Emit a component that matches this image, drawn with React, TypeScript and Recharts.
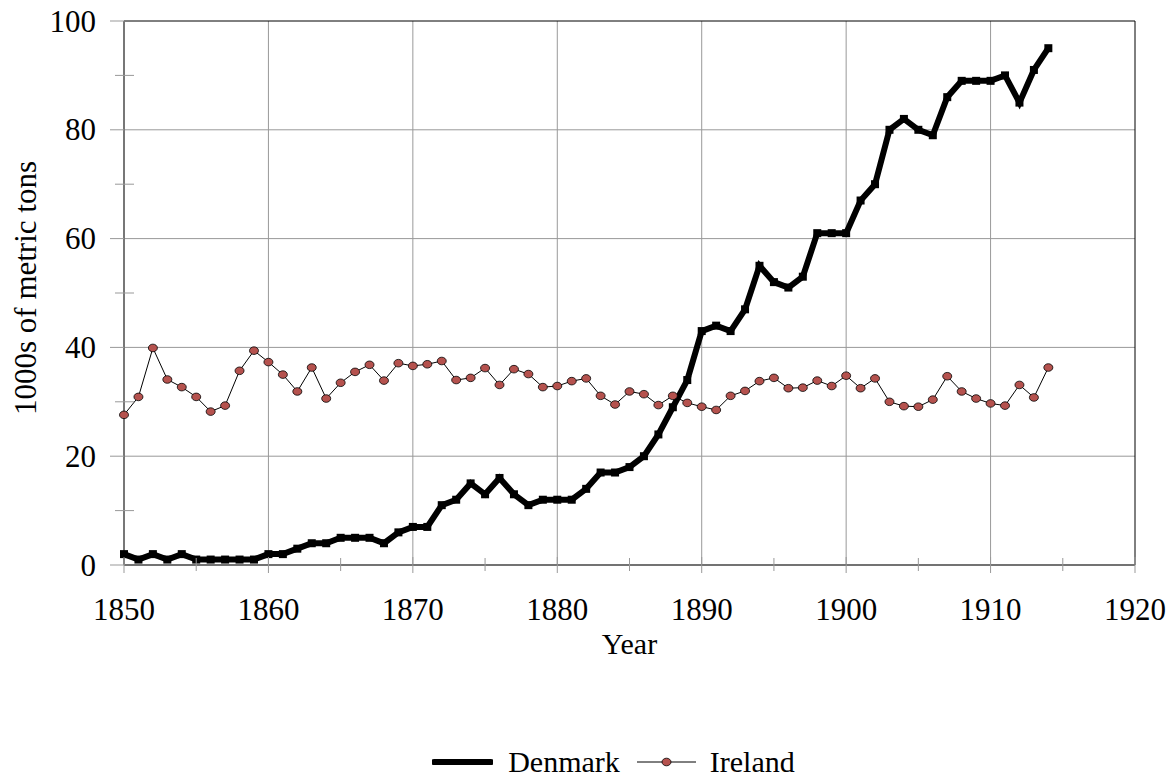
import React from "react"
import { LineChart, Line, XAxis, YAxis, ReferenceLine, Legend } from "recharts"

// Year-by-year exports, 1000s of metric tons
const years = [
  1850, 1851, 1852, 1853, 1854, 1855, 1856, 1857, 1858, 1859,
  1860, 1861, 1862, 1863, 1864, 1865, 1866, 1867, 1868, 1869,
  1870, 1871, 1872, 1873, 1874, 1875, 1876, 1877, 1878, 1879,
  1880, 1881, 1882, 1883, 1884, 1885, 1886, 1887, 1888, 1889,
  1890, 1891, 1892, 1893, 1894, 1895, 1896, 1897, 1898, 1899,
  1900, 1901, 1902, 1903, 1904, 1905, 1906, 1907, 1908, 1909,
  1910, 1911, 1912, 1913, 1914,
]

const denmark = [
  2, 1, 2, 1, 2, 1, 1, 1, 1, 1,
  2, 2, 3, 4, 4, 5, 5, 5, 4, 6,
  7, 7, 11, 12, 15, 13, 16, 13, 11, 12,
  12, 12, 14, 17, 17, 18, 20, 24, 29, 34,
  43, 44, 43, 47, 55, 52, 51, 53, 61, 61,
  61, 67, 70, 80, 82, 80, 79, 86, 89, 89,
  89, 90, 85, 91, 95,
]

const ireland = [
  27.6, 30.9, 39.9, 34.1, 32.7, 30.9, 28.2, 29.3, 35.7, 39.4,
  37.3, 35.0, 31.9, 36.3, 30.6, 33.5, 35.5, 36.8, 33.9, 37.1,
  36.6, 36.9, 37.5, 34.0, 34.4, 36.2, 33.1, 36.0, 35.1, 32.7,
  32.9, 33.8, 34.3, 31.1, 29.5, 31.9, 31.4, 29.4, 31.1, 29.8,
  29.1, 28.5, 31.1, 32.0, 33.8, 34.4, 32.5, 32.6, 33.9, 32.9,
  34.8, 32.5, 34.3, 30.0, 29.2, 29.1, 30.4, 34.7, 31.9, 30.6,
  29.7, 29.3, 33.1, 30.8, 36.3,
]

const xTicks = [1850, 1855, 1860, 1865, 1870, 1875, 1880, 1885, 1890, 1895, 1900, 1905, 1910, 1915, 1920]
const xGrid = [1860, 1870, 1880, 1890, 1900, 1910]
const yTicks = [0, 10, 20, 30, 40, 50, 60, 70, 80, 90, 100]
const yGrid = [20, 40, 60, 80]

const data = years.map((year, i) => ({ year, denmark: denmark[i], ireland: ireland[i] }))

const FONT = "Liberation Serif, DejaVu Serif, serif"
const FS = 30
const TICK_FS = 31

const XTick = (props: any) => {
  const { x, y, payload } = props
  const major = payload.value % 10 === 0
  return (
    <g>
      <line x1={x} x2={x} y1={major ? y - 8 : y - 7} y2={major ? y + 8 : y + 6} stroke="#999" />
      {major && (
        <text x={x} y={y + 44} textAnchor="middle" dominantBaseline="central" style={{ fontFamily: FONT, fontSize: TICK_FS }} fill="#000">
          {payload.value}
        </text>
      )}
    </g>
  )
}

const YTick = (props: any) => {
  const { x, y, payload } = props
  const major = payload.value % 20 === 0
  return (
    <g>
      <line x1={major ? x - 14 : x - 9} x2={major ? x : x + 10} y1={y} y2={y} stroke="#999" />
      {major && (
        <text x={x - 28} y={y} textAnchor="end" dominantBaseline="central" style={{ fontFamily: FONT, fontSize: TICK_FS }} fill="#000">
          {payload.value}
        </text>
      )}
    </g>
  )
}

const SquareDot = (props: any) => {
  const { cx, cy } = props
  if (cx == null || cy == null) return null
  return <rect x={cx - 4} y={cy - 4} width={8} height={8} fill="#000" />
}

const RoundDot = (props: any) => {
  const { cx, cy } = props
  if (cx == null || cy == null) return null
  return <ellipse cx={cx} cy={cy} rx={4.5} ry={3.8} fill="#b5524e" stroke="#000" strokeWidth={0.8} />
}

const LegendContent = () => (
  <div style={{ display: "flex", justifyContent: "center", alignItems: "center", height: 36, paddingLeft: 92, fontFamily: FONT, fontSize: FS, color: "#000" }}>
    <svg width={61} height={12}>
      <line x1={2} x2={59} y1={6} y2={6} stroke="#000" strokeWidth={6} strokeLinecap="round" />
    </svg>
    <span style={{ marginLeft: 15, marginRight: 17, lineHeight: "36px" }}>Denmark</span>
    <svg width={59} height={12}>
      <line x1={0} x2={59} y1={6} y2={6} stroke="#000" strokeWidth={1} />
      <ellipse cx={29.5} cy={6} rx={4.5} ry={3.8} fill="#b5524e" stroke="#000" strokeWidth={0.8} />
    </svg>
    <span style={{ marginLeft: 14, lineHeight: "36px" }}>Ireland</span>
  </div>
)

export default function App() {
  return (
    <div>
      <style>{"body{margin:0;background:#fff}"}</style>
      <LineChart width={1174} height={780} data={data} margin={{ top: 21, right: 39, left: 0, bottom: 0 }}>
        <XAxis
          dataKey="year"
          type="number"
          domain={[1850, 1920]}
          ticks={xTicks}
          interval={0}
          height={179}
          tickSize={0}
          tickMargin={0}
          tickLine={false}
          axisLine={{ stroke: "#444", strokeWidth: 1.5 }}
          tick={<XTick />}
          label={{
            content: (p: any) => {
              const vb = p.viewBox
              return (
                <text x={vb.x + vb.width / 2} y={vb.y + 89} textAnchor="middle" style={{ fontFamily: FONT, fontSize: FS }} fill="#000">
                  Year
                </text>
              )
            },
          }}
        />
        <YAxis
          type="number"
          domain={[0, 100]}
          ticks={yTicks}
          interval={0}
          width={124}
          tickSize={0}
          tickMargin={0}
          tickLine={false}
          axisLine={{ stroke: "#777", strokeWidth: 2 }}
          tick={<YTick />}
          label={{
            content: (p: any) => {
              const vb = p.viewBox
              const cx = 25
              const cy = vb.y + vb.height / 2 - 5
              return (
                <text x={cx} y={cy} transform={`rotate(-90, ${cx}, ${cy})`} textAnchor="middle" dominantBaseline="central" style={{ fontFamily: FONT, fontSize: 31 }} fill="#000">
                  1000s of metric tons
                </text>
              )
            },
          }}
        />
        {xGrid.map((v) => (
          <ReferenceLine key={"gx" + v} x={v} stroke="#999" />
        ))}
        {yGrid.map((v) => (
          <ReferenceLine key={"gy" + v} y={v} stroke="#999" />
        ))}
        <ReferenceLine y={100} stroke="#000" />
        <ReferenceLine x={1920} stroke="#000" />
        <Legend verticalAlign="bottom" content={<LegendContent />} />
        <Line
          dataKey="ireland"
          stroke="#000"
          strokeWidth={1}
          dot={<RoundDot />}
          activeDot={false}
          isAnimationActive={false}
        />
        <Line
          dataKey="denmark"
          stroke="#000"
          strokeWidth={6}
          strokeLinejoin="miter"
          dot={<SquareDot />}
          activeDot={false}
          isAnimationActive={false}
        />
      </LineChart>
    </div>
  )
}
